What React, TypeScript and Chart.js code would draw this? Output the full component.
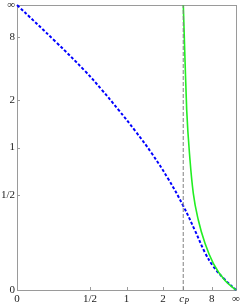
import { useEffect, useRef } from 'react';
import { Chart, registerables } from 'chart.js';
Chart.register(...registerables);

// Raw values (axes use the compactification v -> v/(1+v), with ∞ -> 1)
const cP = 3.15;
const xTickValues = [0, 0.5, 1, 2, cP, 8, Infinity];
const xTickLabels = ['0', '1/2', '1', '2', 'cP', '8', '∞'];
const yTickValues = [0, 0.5, 1, 2, 8, Infinity];
const yTickLabels = ['0', '1/2', '1', '2', '8', '∞'];

const blueX = [0, 0.2167, 0.4504, 0.6306, 0.8607, 1.168, 1.598, 2.235, 3.156, 4.342, 6.062, 8.643, 18.92, Infinity];
const blueY = [Infinity, 6.69, 3.318, 2.365, 1.725, 1.269, 0.922, 0.638, 0.418, 0.2633, 0.151, 0.0907, 0.0371, 0];

const greenX = [3.156, 3.295, 3.442, 3.762, 4.129, 4.81, 6.062, 8.643, 18.92, Infinity];
const greenY = [Infinity, 4.18, 1.714, 0.8387, 0.5136, 0.3256, 0.196, 0.1034, 0.0345, 0];

const cpLineX = [cP, cP];
const cpLineY = [0, Infinity];

const comp = (v: number) => (v === Infinity ? 1 : v / (1 + v));
const pts = (xs: number[], ys: number[]) => xs.map((x, i) => ({ x: comp(x), y: comp(ys[i]) }));

const FONT = '"Liberation Serif", "Times New Roman", serif';

const axesPlugin = {
  id: 'axesPlugin',
  beforeDatasetsDraw(chart: any) {
    const { ctx, chartArea } = chart;
    const { left, top, right, bottom } = chartArea;
    const xs = chart.scales.x;
    const ys = chart.scales.y;
    ctx.save();
    ctx.strokeStyle = '#9a9a9a';
    ctx.lineWidth = 1;
    ctx.strokeRect(Math.round(left) + 0.5, Math.round(top) + 0.5, Math.round(right - left), Math.round(bottom - top));
    ctx.beginPath();
    xTickValues.forEach((v) => {
      const px = Math.round(xs.getPixelForValue(comp(v))) + 0.5;
      ctx.moveTo(px, bottom);
      ctx.lineTo(px, bottom - 3);
    });
    yTickValues.forEach((v) => {
      const py = Math.round(ys.getPixelForValue(comp(v))) + 0.5;
      ctx.moveTo(left, py);
      ctx.lineTo(left + 3, py);
    });
    ctx.stroke();
    ctx.restore();
  },
  afterDraw(chart: any) {
    const { ctx, chartArea } = chart;
    const { left, bottom } = chartArea;
    const xs = chart.scales.x;
    const ys = chart.scales.y;
    ctx.save();
    ctx.fillStyle = '#222';
    ctx.font = `11px ${FONT}`;
    ctx.textBaseline = 'middle';
    ctx.textAlign = 'right';
    yTickValues.forEach((v, i) => {
      ctx.fillText(yTickLabels[i], left - 2, ys.getPixelForValue(comp(v)));
    });
    ctx.textAlign = 'center';
    ctx.textBaseline = 'alphabetic';
    xTickValues.forEach((v, i) => {
      const px = xs.getPixelForValue(comp(v));
      const lab = xTickLabels[i];
      if (lab === 'cP') {
        ctx.textAlign = 'left';
        ctx.font = `italic 11px ${FONT}`;
        ctx.fillText('c', px - 4, bottom + 12);
        ctx.font = `italic 8px ${FONT}`;
        ctx.fillText('P', px + 1, bottom + 14);
        ctx.font = `11px ${FONT}`;
        ctx.textAlign = 'center';
      } else {
        ctx.fillText(lab, px, bottom + 12);
      }
    });
    ctx.restore();
  },
};

export default function App() {
  const ref = useRef<HTMLCanvasElement>(null);
  useEffect(() => {
    document.body.style.margin = '0';
    const chart = new Chart(ref.current!, {
      type: 'scatter',
      data: {
        datasets: [
          {
            data: pts(cpLineX, cpLineY),
            showLine: true,
            borderColor: '#808080',
            borderWidth: 1,
            borderDash: [4, 2],
            pointRadius: 0,
          },
          {
            data: pts(greenX, greenY),
            showLine: true,
            borderColor: '#22ee22',
            borderWidth: 1.6,
            pointRadius: 0,
            cubicInterpolationMode: 'monotone',
          },
          {
            data: pts(blueX, blueY),
            showLine: true,
            borderColor: '#0000ff',
            borderWidth: 2,
            borderDash: [3, 2],
            pointRadius: 0,
            tension: 0.4,
          },
        ] as any,
      },
      options: {
        animation: false,
        responsive: false,
        layout: { padding: { left: 17, top: 5, right: 5, bottom: 16 } },
        plugins: { legend: { display: false }, tooltip: { enabled: false } },
        datasets: { scatter: { clip: false } as any } as any,
        scales: {
          x: { type: 'linear', min: 0, max: 1, display: false },
          y: { type: 'linear', min: 0, max: 1, display: false },
        },
      },
      plugins: [axesPlugin],
    });
    return () => chart.destroy();
  }, []);
  return <canvas ref={ref} width={241} height={306} style={{ display: 'block' }} />;
}
